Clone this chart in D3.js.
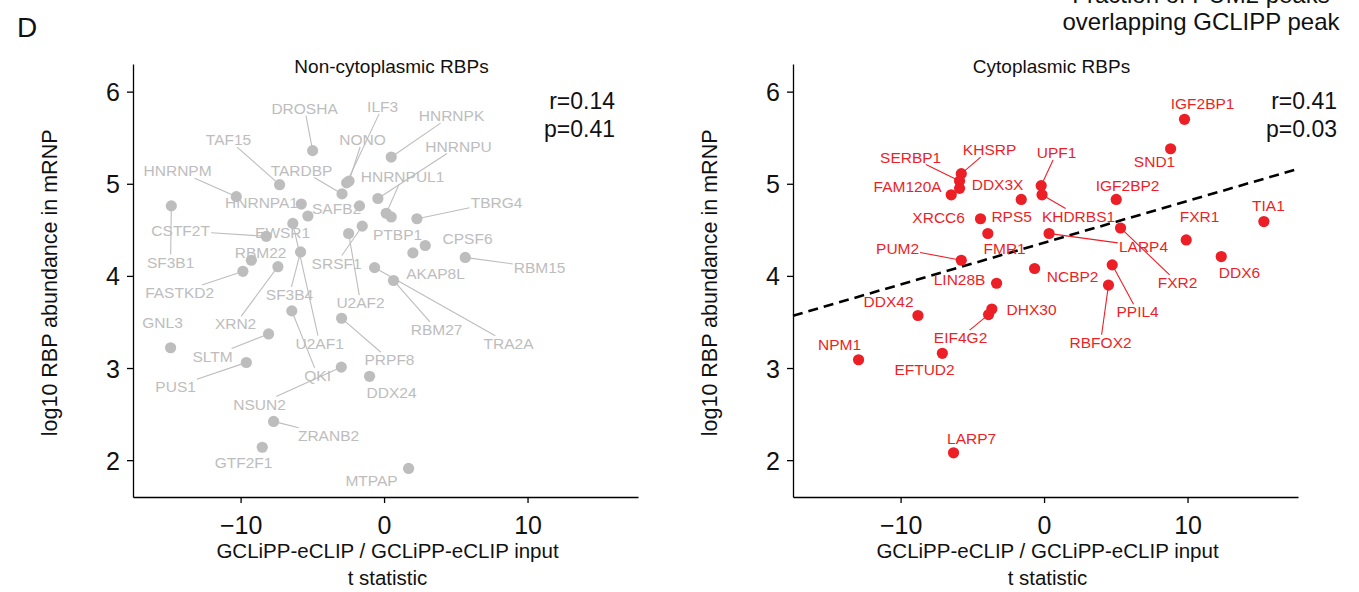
<!DOCTYPE html>
<html><head><meta charset="utf-8">
<script src="https://cdn.jsdelivr.net/npm/d3@7"></script>
<style>
body{margin:0;background:#fff}
svg{display:block;font-family:"Liberation Sans",Arial,Helvetica,sans-serif}
</style>
</head><body>
<svg id="chart" width="1359" height="592"></svg>
<script>
// ---------------- data ----------------
const xTicks = [-10, 0, 10];
const yTicks = [2, 3, 4, 5, 6];
const xDomain = [-17.5, 17.7];
const yDomain = [1.6, 6.3];

// Non-cytoplasmic RBPs
const leftNames = ["DROSHA","HNRNPK","ILF3","NONO","TARDBP","TAF15","HNRNPM","HNRNPA1","EWSR1","SAFB2","HNRNPU","HNRNPUL1","PTBP1","SF3B1","U2AF1","CSTF2T","TBRG4","U2AF2","SRSF1","CPSF6","AKAP8L","RBM15","TRA2A","RBM27","RBM22","FASTKD2","XRN2","SF3B4","QKI","PRPF8","GNL3","SLTM","PUS1","NSUN2","DDX24","ZRANB2","GTF2F1","MTPAP"];
const leftT = [-4.98,0.50,-2.61,-2.44,-2.93,-7.28,-10.30,-5.77,-5.31,-1.71,-0.43,0.15,0.50,-14.83,-6.36,-8.21,2.29,-2.47,-1.52,2.87,2.01,5.66,-0.66,0.66,-9.25,-9.84,-7.40,-5.82,-6.43,-2.96,-14.88,-8.05,-9.60,-2.98,-1.01,-7.70,-8.49,1.71];
const leftAbund = [5.36,5.29,5.01,5.03,4.89,4.99,4.86,4.78,4.65,4.76,4.84,4.68,4.64,4.76,4.57,4.43,4.62,4.46,4.54,4.33,4.25,4.20,4.09,3.95,4.17,4.05,4.10,4.26,3.62,3.54,3.22,3.37,3.06,3.01,2.91,2.42,2.14,1.91];
const leftLabelT = [-5.54,4.70,-0.10,-1.50,-5.75,-10.84,-14.39,-8.54,-7.07,-3.31,5.19,1.29,0.94,-14.88,-4.49,-14.18,7.84,-1.64,-3.31,5.82,3.59,10.84,8.68,3.66,-8.61,-14.25,-10.35,-6.59,-4.63,0.38,-15.44,-11.95,-14.53,-8.68,0.52,-3.87,-9.79,-0.87];
const leftLabelY = [5.82,5.74,5.84,5.48,5.15,5.48,5.14,4.80,4.47,4.73,5.41,5.08,4.45,4.15,3.27,4.49,4.80,3.71,4.14,4.41,4.03,4.09,3.27,3.42,4.25,3.82,3.48,3.80,2.92,3.09,3.49,3.13,2.80,2.61,2.74,2.27,1.97,1.78];
const leftLinked = ["DROSHA","HNRNPK","ILF3","NONO","TARDBP","TAF15","HNRNPM","HNRNPU","HNRNPUL1","SF3B1","U2AF1","CSTF2T","TBRG4","U2AF2","SRSF1","RBM15","TRA2A","RBM27","FASTKD2","XRN2","SF3B4","QKI","PRPF8","SLTM","PUS1","NSUN2","ZRANB2"];
const leftStats = ["r=0.14", "p=0.41"];

// Cytoplasmic RBPs
const rightNames = ["IGF2BP1","SND1","SERBP1","KHSRP","DDX3X","FAM120A","UPF1","KHDRBS1","IGF2BP2","RPS5","XRCC6","FMR1","LARP4","FXR2","TIA1","FXR1","DDX6","PUM2","NCBP2","PPIL4","RBFOX2","LIN28B","DDX42","DHX30","EIF4G2","NPM1","EFTUD2","LARP7"];
const rightT = [9.79,8.82,-5.89,-5.77,-5.89,-6.47,-0.20,-0.14,5.03,-1.59,-4.43,-3.92,0.35,5.33,15.32,9.91,12.35,-5.77,-0.66,4.75,4.49,-3.31,-8.79,-3.64,-3.87,-12.93,-7.09,-6.31];
const rightAbund = [5.70,5.38,5.03,5.11,4.95,4.88,4.98,4.88,4.83,4.83,4.62,4.46,4.46,4.52,4.59,4.39,4.21,4.17,4.08,4.12,3.90,3.92,3.57,3.64,3.58,3.09,3.16,2.08];
const rightLabelT = [11.05,7.70,-9.30,-3.80,-3.24,-9.51,0.87,2.40,5.82,-2.26,-7.35,-2.75,6.93,9.30,15.64,10.84,13.62,-10.21,1.99,6.52,3.94,-5.89,-10.84,-0.87,-5.82,-14.25,-8.33,-5.05];
const rightLabelY = [5.87,5.24,5.29,5.37,4.99,4.97,5.34,4.65,4.98,4.65,4.63,4.30,4.32,3.93,4.76,4.65,4.04,4.30,3.99,3.61,3.28,3.96,3.72,3.64,3.33,3.26,2.99,2.24];
const rightLinked = ["SERBP1","KHSRP","UPF1","KHDRBS1","PUM2","LARP4","FXR2","PPIL4","RBFOX2","EIF4G2"];
const rightStats = ["r=0.41", "p=0.03"];
const fitIntercept = 4.36;
const fitSlope = 0.0453;

const xTitleLines = ["GCLiPP-eCLIP / GCLiPP-eCLIP input", "t statistic"];
const yTitle = "log10 RBP abundance in mRNP";
const headerLines = ["Fraction of PUM2 peaks", "overlapping GCLIPP peak"];

// ---------------- drawing ----------------
const svg = d3.select("#chart");
const PANEL_W = 505, TOP = 64, BOTTOM = 497;

svg.append("text").attr("x", 17).attr("y", 37).attr("font-size", 28).attr("fill", "#111").text("D");

const header = svg.append("text").attr("text-anchor", "middle").attr("font-size", 24).attr("fill", "#111");
headerLines.forEach((t, i) => header.append("tspan").attr("x", 1201).attr("y", 3 + i * 26.5).text(t));

function panel(x0, title, names, tv, av, lt, ly, linked, stats, statsRight, color, fit) {
  const x = d3.scaleLinear().domain(xDomain).range([x0, x0 + PANEL_W]);
  const y = d3.scaleLinear().domain(yDomain).range([BOTTOM, TOP]);
  const g = svg.append("g");

  // axes
  const ax = g.append("g").attr("transform", `translate(0,${BOTTOM})`)
    .call(d3.axisBottom(x).tickValues(xTicks).tickFormat(d3.format("d")).tickSize(6).tickSizeOuter(0).tickPadding(8));
  const ay = g.append("g").attr("transform", `translate(${x0},0)`)
    .call(d3.axisLeft(y).tickValues(yTicks).tickFormat(d3.format("d")).tickSize(6).tickSizeOuter(0).tickPadding(7));
  [ax, ay].forEach(a => {
    a.select(".domain").attr("stroke", "#000").attr("stroke-width", 1.3);
    a.selectAll(".tick line").attr("stroke", "#000").attr("stroke-width", 1.3);
    a.selectAll(".tick text").attr("font-size", 25).attr("fill", "#111")
      .attr("font-family", '"Liberation Sans",Arial,sans-serif');
  });
  ax.selectAll(".tick text").attr("dy", "0.92em");
  ay.selectAll(".tick text").attr("dy", "0.36em");

  // titles
  g.append("text").attr("x", x0 + PANEL_W / 2 + 6).attr("y", 73).attr("text-anchor", "middle")
    .attr("font-size", 19).attr("fill", "#111").text(title);
  const xt = g.append("text").attr("text-anchor", "middle").attr("font-size", 20.5).attr("fill", "#111");
  xTitleLines.forEach((t, i) => xt.append("tspan").attr("x", x0 + PANEL_W / 2 + 2).attr("y", 558 + i * 26.5).text(t));
  g.append("text").attr("transform", `translate(${x0 - 76},${(y(6) + y(2)) / 2 + 7}) rotate(-90)`)
    .attr("text-anchor", "middle").attr("font-size", 21.5).attr("fill", "#111").text(yTitle);

  // stats
  stats.forEach((s, i) => g.append("text").attr("x", x0 + statsRight).attr("y", 109 + i * 28)
    .attr("text-anchor", "end").attr("font-size", 23).attr("fill", "#111").text(s));

  // fit line
  if (fit) {
    const xd = xDomain;
    g.append("line")
      .attr("x1", x(xd[0])).attr("y1", y(fitIntercept + fitSlope * xd[0]))
      .attr("x2", x(xd[1])).attr("y2", y(fitIntercept + fitSlope * xd[1]))
      .attr("stroke", "#000").attr("stroke-width", 2.6).attr("stroke-dasharray", "10,6");
  }

  const R = 5.6;
  // points
  g.append("g").selectAll("circle").data(names).join("circle")
    .attr("cx", (d, i) => x(tv[i])).attr("cy", (d, i) => y(av[i])).attr("r", R).attr("fill", color);

  // labels
  const segG = g.append("g");
  const labG = g.append("g");
  names.forEach((n, i) => {
    const cx = x(lt[i]), cy = y(ly[i]);
    const t = labG.append("text").attr("x", cx).attr("y", cy).attr("dy", "0.36em")
      .attr("text-anchor", "middle").attr("font-size", 15.5).attr("fill", color).text(n);
    if (linked.includes(n)) {
      const bb = t.node().getBBox();
      const hw = bb.width / 2 + 1, hh = 7.5;
      const px = x(tv[i]), py = y(av[i]);
      const dx = px - cx, dy = py - cy;
      const s = Math.min(Math.abs(dx) > 0 ? hw / Math.abs(dx) : Infinity, Math.abs(dy) > 0 ? hh / Math.abs(dy) : Infinity);
      const sx = cx + dx * s, sy = cy + dy * s;
      const L = Math.hypot(px - sx, py - sy);
      const ex = px - (px - sx) / L * R * 0.5, ey = py - (py - sy) / L * R * 0.5;
      segG.append("line").attr("x1", sx).attr("y1", sy).attr("x2", ex).attr("y2", ey)
        .attr("stroke", color).attr("stroke-width", 1.1);
    }
  });
}

panel(133, "Non-cytoplasmic RBPs", leftNames, leftT, leftAbund, leftLabelT, leftLabelY, leftLinked, leftStats, 482, "#bdbdbd", false);
panel(793, "Cytoplasmic RBPs", rightNames, rightT, rightAbund, rightLabelT, rightLabelY, rightLinked, rightStats, 544, "#ec1f26", true);
</script>
</body></html>
